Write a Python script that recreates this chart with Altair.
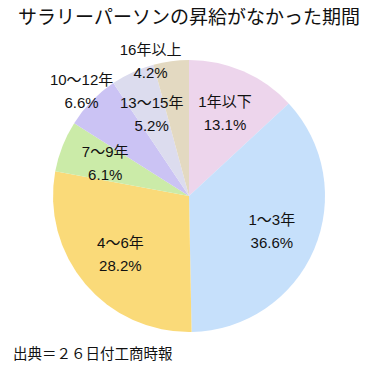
import altair as alt
import pandas as pd

title_text = "サラリーパーソンの昇給がなかった期間"
source_text = "出典＝２６日付工商時報"
categories = ["1年以下", "1〜3年", "4〜6年", "7〜9年", "10〜12年", "13〜15年", "16年以上"]
values = [13.1, 36.6, 28.2, 6.1, 6.6, 5.2, 4.2]
colors = ["#EDD5EC", "#C6E0FB", "#FADA79", "#CBEBA8", "#CBC3F4", "#DCDCEE", "#E3D9C1"]
outer_cats = ["10〜12年"]
top_cats = ["16年以上"]

FONT = "Noto Sans CJK JP"
LABEL_FONT = "Liberation Sans, Noto Sans CJK JP"
LH = 23

df = pd.DataFrame({
    "idx": list(range(len(categories))),
    "cat": categories,
    "value": values,
    "label": [f"{c}\n{v:.1f}%" for c, v in zip(categories, values)],
})

base = alt.Chart(df).encode(
    theta=alt.Theta("value:Q", stack=True),
    order=alt.Order("idx:Q"),
)

arc = base.mark_arc(outerRadius=136, stroke=None).encode(
    color=alt.Color("cat:N", scale=alt.Scale(domain=categories, range=colors), legend=None)
)

inner_pred = ~alt.FieldOneOfPredicate(field="cat", oneOf=outer_cats + top_cats)
txt_kw = dict(font=LABEL_FONT, fontSize=15, lineBreak="\n", lineHeight=LH, color="#111111",
              align="center", baseline="middle")

t_in = base.mark_text(radius=90, dy=-LH / 2, **txt_kw).encode(
    text=alt.condition(inner_pred, alt.Text("label:N"), alt.value(""))
)
t_out = base.mark_text(radius=150, dy=-LH / 2, **txt_kw).encode(
    text=alt.condition(alt.FieldOneOfPredicate(field="cat", oneOf=outer_cats), alt.Text("label:N"), alt.value(""))
)
t_top = base.mark_text(radius=140, dx=-20, dy=4 - LH / 2, **txt_kw).encode(
    text=alt.condition(alt.FieldOneOfPredicate(field="cat", oneOf=top_cats), alt.Text("label:N"), alt.value(""))
)

title = alt.Chart(pd.DataFrame({"t": [title_text]})).mark_text(
    font=FONT, fontSize=19, align="center", baseline="middle", color="#111111"
).encode(x=alt.value(181), y=alt.value(-30), text="t:N")

src = alt.Chart(pd.DataFrame({"t": [source_text]})).mark_text(
    font=FONT, fontSize=14.5, align="left", baseline="middle", color="#111111"
).encode(x=alt.value(5), y=alt.value(307), text="t:N")

chart = alt.layer(arc, t_in, t_out, t_top, title, src).properties(
    width=362, height=296,
    autosize=alt.AutoSizeParams(type="none"),
    padding={"left": 0, "top": 40, "right": 0, "bottom": 19},
).configure_view(stroke=None)

chart.save("out.html", embed_options={"renderer": "svg", "actions": False})
